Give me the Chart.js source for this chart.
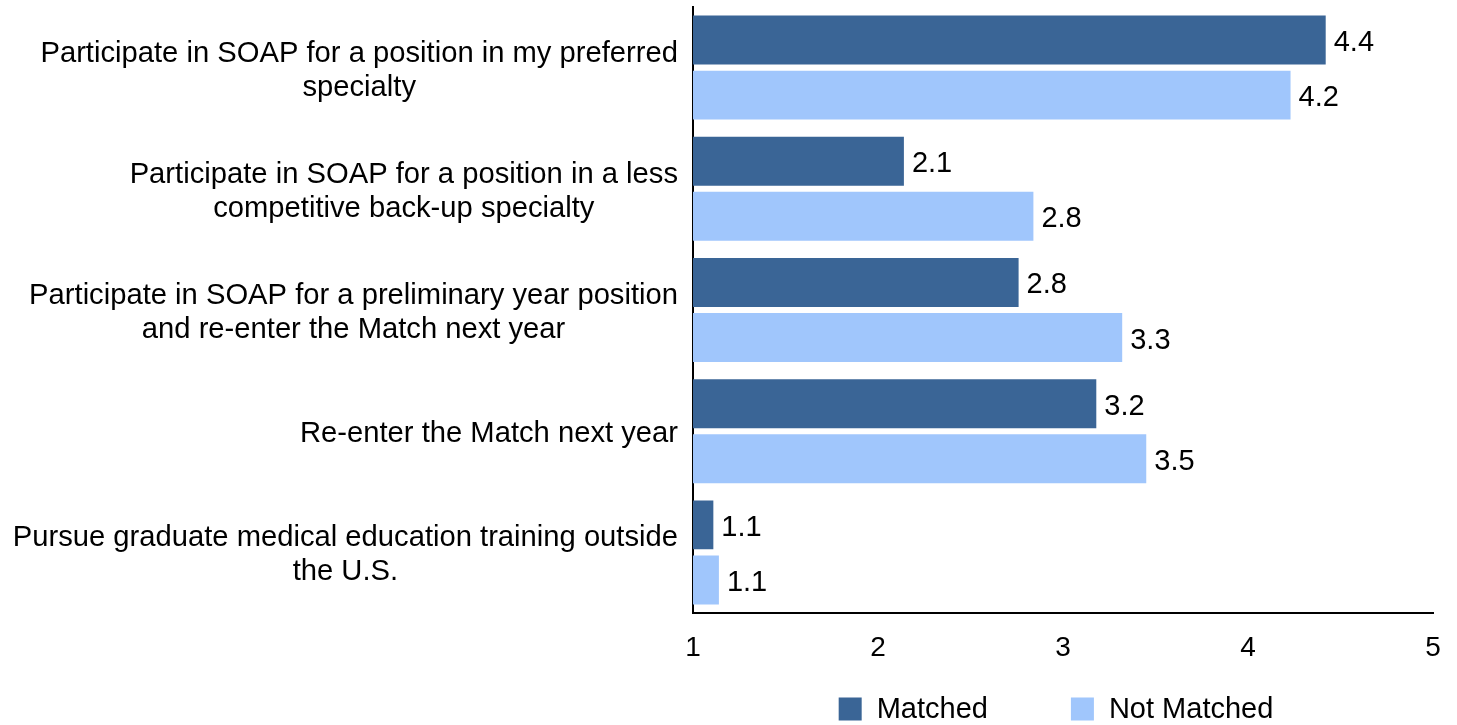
<!DOCTYPE html>
<html>
<head>
<meta charset="utf-8">
<script src="https://cdn.jsdelivr.net/npm/chart.js@4.4.1/dist/chart.umd.min.js"></script>
<style>
  html, body { margin: 0; padding: 0; background: #ffffff; }
  #wrap { width: 1457px; height: 725px; position: relative; }
</style>
</head>
<body>
<div id="wrap"><canvas id="chart"></canvas></div>
<script>
// Category labels (already broken into lines as in the picture)
const categories = [
    ['Participate in SOAP for a position in my preferred', 'specialty'],
    ['Participate in SOAP for a position in a less', 'competitive back-up specialty'],
    ['Participate in SOAP for a preliminary year position', 'and re-enter the Match next year'],
    ['Re-enter the Match next year'],
    ['Pursue graduate medical education training outside', 'the U.S.']
];
const seriesNames = ['Matched', 'Not Matched'];
const matched = [4.42, 2.14, 2.76, 3.18, 1.11];
const notMatched = [4.23, 2.84, 3.32, 3.45, 1.14];
const xTicks = [1, 2, 3, 4, 5];

const FONT = '"Liberation Sans", Arial, sans-serif';
const COLORS = ['#3a6596', '#a0c6fc'];

// Labels on the left: each block right aligned, lines centered inside the block
const yLabelPlugin = {
    id: 'yLabels',
    afterDraw(chart) {
        const ctx = chart.ctx;
        const yScale = chart.scales.y;
        const lineH = 34;
        ctx.save();
        ctx.font = '29.2px ' + FONT;
        ctx.fillStyle = '#000000';
        ctx.textAlign = 'center';
        ctx.textBaseline = 'middle';
        categories.forEach((lines, i) => {
            const yc = yScale.getPixelForTick(i);
            const widest = Math.max(...lines.map(l => ctx.measureText(l).width));
            const xc = chart.chartArea.left - 15 - widest / 2;
            lines.forEach((line, j) => {
                ctx.fillText(line, xc, yc + 3 + (j - (lines.length - 1) / 2) * lineH);
            });
        });
        ctx.restore();
    }
};

// Value labels at the end of each bar
const valueLabelPlugin = {
    id: 'valueLabels',
    afterDatasetsDraw(chart) {
        const ctx = chart.ctx;
        ctx.save();
        ctx.font = '29px ' + FONT;
        ctx.fillStyle = '#000000';
        ctx.textAlign = 'left';
        ctx.textBaseline = 'middle';
        chart.data.datasets.forEach((ds, di) => {
            const meta = chart.getDatasetMeta(di);
            meta.data.forEach((bar, i) => {
                ctx.fillText(ds.data[i].toFixed(1), bar.x + 8, bar.y + 3);
            });
        });
        ctx.restore();
    }
};

// Legend below the axis, centered a little left of the plot area middle
const legendPlugin = {
    id: 'bottomLegend',
    afterDraw(chart) {
        const ctx = chart.ctx;
        const box = 23, textGap = 15, itemGap = 83;
        ctx.save();
        ctx.font = '29px ' + FONT;
        ctx.textAlign = 'left';
        ctx.textBaseline = 'middle';
        const widths = seriesNames.map(n => box + textGap + ctx.measureText(n).width);
        const total = widths.reduce((a, b) => a + b, 0) + itemGap * (widths.length - 1);
        let x = (chart.chartArea.left + chart.chartArea.right) / 2 - 7 - total / 2;
        const yc = 709;
        seriesNames.forEach((name, i) => {
            ctx.fillStyle = COLORS[i];
            ctx.fillRect(x, yc - box / 2, box, box);
            ctx.fillStyle = '#000000';
            ctx.fillText(name, x + box + textGap, yc + 1);
            x += widths[i] + itemGap;
        });
        ctx.restore();
    }
};

const ctx = document.getElementById('chart').getContext('2d');
new Chart(ctx, {
    type: 'bar',
    data: {
        labels: categories,
        datasets: [
            {
                label: seriesNames[0],
                data: matched,
                backgroundColor: COLORS[0],
                categoryPercentage: 0.908,
                barPercentage: 0.89
            },
            {
                label: seriesNames[1],
                data: notMatched,
                backgroundColor: COLORS[1],
                categoryPercentage: 0.908,
                barPercentage: 0.89
            }
        ]
    },
    options: {
        indexAxis: 'y',
        responsive: true,
        maintainAspectRatio: false,
        animation: false,
        layout: {
            padding: { top: 7, right: 24, bottom: 60, left: 0 }
        },
        scales: {
            x: {
                type: 'linear',
                min: xTicks[0],
                max: xTicks[xTicks.length - 1],
                afterBuildTicks: function(scale) {
                    scale.ticks = xTicks.map(v => ({ value: v }));
                },
                afterFit: function(scale) {
                    scale.height = 52;
                },
                grid: { display: false, drawTicks: false },
                border: { display: true, color: '#000000', width: 2 },
                ticks: {
                    color: '#000000',
                    padding: 16,
                    font: { family: FONT, size: 28, lineHeight: 1.4 }
                }
            },
            y: {
                type: 'category',
                afterFit: function(scale) {
                    scale.width = 693;
                },
                grid: { display: false, drawTicks: false },
                border: { display: true, color: '#000000', width: 2 },
                ticks: { display: false }
            }
        },
        plugins: {
            legend: { display: false },
            tooltip: { enabled: false }
        }
    },
    plugins: [yLabelPlugin, valueLabelPlugin, legendPlugin]
});
</script>
</body>
</html>
